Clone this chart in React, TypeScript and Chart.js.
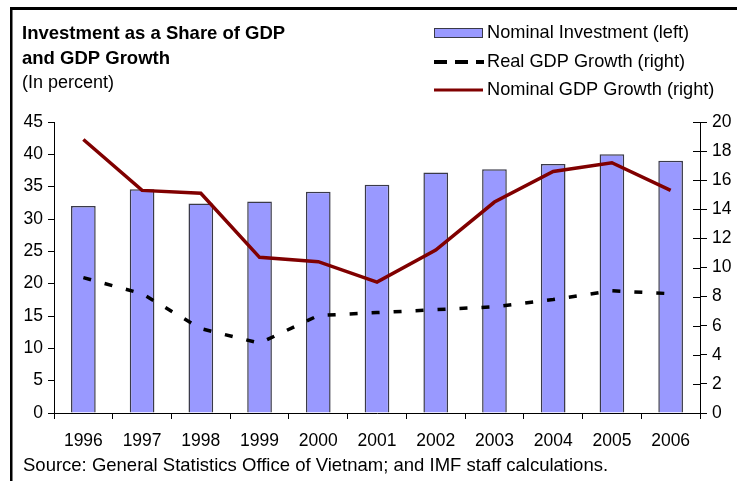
import React, { useEffect, useRef } from 'react';
import { Chart, registerables } from 'chart.js';

Chart.register(...registerables);

const years = ['1996', '1997', '1998', '1999', '2000', '2001', '2002', '2003', '2004', '2005', '2006'];
const nominalInvestment = [32.0, 34.6, 32.4, 32.7, 34.2, 35.3, 37.2, 37.7, 38.5, 40.0, 39.0];
const realGdpGrowth = [9.3, 8.2, 5.8, 4.8, 6.7, 6.9, 7.1, 7.3, 7.8, 8.4, 8.2];
const nominalGdpGrowth = [18.8, 15.3, 15.1, 10.7, 10.4, 9.0, 11.2, 14.5, 16.6, 17.2, 15.3];

const titleLines = ['Investment as a Share of GDP', 'and GDP Growth'];
const subtitle = '(In percent)';
const legendLabels = ['Nominal Investment (left)', 'Real GDP Growth (right)', 'Nominal GDP Growth (right)'];
const sourceNote = 'Source: General Statistics Office of Vietnam; and IMF staff calculations.';

const FONT = '"Liberation Sans", Arial, sans-serif';
const BAR_FILL = '#9999FF';
const BAR_BORDER = '#3a3a48';
const RED = '#800000';

export default function App() {
  const ref = useRef<HTMLCanvasElement>(null);

  useEffect(() => {
    const canvas = ref.current;
    if (!canvas) return;

    const decor = {
      id: 'decor',
      beforeDraw(chart: any) {
        const ctx = chart.ctx;
        ctx.save();
        ctx.fillStyle = '#ffffff';
        ctx.fillRect(0, 0, chart.width, chart.height);
        ctx.fillStyle = '#000000';
        // frame: top and left rules
        ctx.fillRect(10, 7, chart.width - 10, 3);
        ctx.fillRect(10, 7, 2.5, chart.height - 7);
        ctx.restore();
      },
      afterDraw(chart: any) {
        const ctx = chart.ctx;
        ctx.save();
        // title
        ctx.fillStyle = '#000';
        ctx.textBaseline = 'alphabetic';
        ctx.textAlign = 'left';
        ctx.font = `bold 18.5px ${FONT}`;
        ctx.fillText(titleLines[0], 22, 39);
        ctx.fillText(titleLines[1], 22, 64);
        ctx.font = `18px ${FONT}`;
        ctx.fillText(subtitle, 22, 88);

        // legend
        ctx.textBaseline = 'middle';
        const lx = 434;
        const tx = 487;
        const ly = [33, 62, 90];
        ctx.fillStyle = BAR_FILL;
        ctx.fillRect(lx, 28, 48, 9);
        ctx.strokeStyle = BAR_BORDER;
        ctx.lineWidth = 1;
        ctx.strokeRect(lx + 0.5, 28.5, 48, 9);
        ctx.beginPath();
        ctx.strokeStyle = '#000';
        ctx.lineWidth = 4;
        ctx.setLineDash([13, 8]);
        ctx.moveTo(lx, ly[1]);
        ctx.lineTo(lx + 50, ly[1]);
        ctx.stroke();
        ctx.setLineDash([]);
        ctx.beginPath();
        ctx.strokeStyle = RED;
        ctx.lineWidth = 3;
        ctx.moveTo(lx, ly[2]);
        ctx.lineTo(lx + 49, ly[2]);
        ctx.stroke();
        ctx.fillStyle = '#000';
        ctx.font = `18.2px ${FONT}`;
        legendLabels.forEach((t, i) => ctx.fillText(t, tx, ly[i]));

        // source
        ctx.font = `18.5px ${FONT}`;
        ctx.fillText(sourceNote, 23, 466);

        // inner tick marks on right axis
        const y2 = chart.scales.y2;
        ctx.strokeStyle = '#000';
        ctx.lineWidth = 1;
        y2.ticks.forEach((tk: any) => {
          const py = Math.round(y2.getPixelForValue(tk.value)) + 0.5;
          ctx.beginPath();
          ctx.moveTo(y2.left - 7, py);
          ctx.lineTo(y2.left, py);
          ctx.stroke();
        });
        ctx.restore();
      },
    };

    const chart = new Chart(canvas, {
      type: 'bar',
      data: {
        labels: years,
        datasets: [
          {
            type: 'line',
            label: legendLabels[2],
            data: nominalGdpGrowth,
            yAxisID: 'y2',
            borderColor: RED,
            borderWidth: 3.5,
            pointRadius: 0,
            tension: 0,
            fill: false,
            order: 1,
          },
          {
            type: 'line',
            label: legendLabels[1],
            data: realGdpGrowth,
            yAxisID: 'y2',
            borderColor: '#000',
            borderWidth: 3.5,
            borderDash: [8, 14],
            borderCapStyle: 'butt',
            pointRadius: 0,
            tension: 0,
            fill: false,
            order: 2,
          },
          {
            type: 'bar',
            label: legendLabels[0],
            data: nominalInvestment,
            yAxisID: 'y',
            backgroundColor: BAR_FILL,
            borderColor: BAR_BORDER,
            borderWidth: 1.5,
            borderSkipped: 'bottom',
            barPercentage: 0.42,
            categoryPercentage: 1,
            order: 3,
          },
        ],
      } as any,
      plugins: [decor],
      options: {
        responsive: false,
        animation: false,
        devicePixelRatio: 1,
        layout: { padding: { top: 122, left: 0, right: 0, bottom: 0 } },
        plugins: {
          legend: { display: false },
          title: { display: false },
          tooltip: { enabled: false },
        },
        scales: {
          x: {
            grid: { drawOnChartArea: false, offset: true, tickLength: 6, color: '#000', tickColor: '#000' },
            border: { color: '#000', width: 1 },
            ticks: { color: '#000', font: { family: FONT, size: 17.5 }, padding: 12, maxRotation: 0 },
            afterFit: (s: any) => { s.height = 68; },
          },
          y: {
            position: 'left',
            min: 0,
            max: 45,
            grid: { drawOnChartArea: false, tickLength: 6, color: '#000', tickColor: '#000' },
            border: { color: '#000', width: 1 },
            ticks: { stepSize: 5, color: '#000', font: { family: FONT, size: 17.5 }, padding: 5 },
            afterFit: (s: any) => { s.width = 54; },
          },
          y2: {
            position: 'right',
            min: 0,
            max: 20,
            grid: { drawOnChartArea: false, tickLength: 7, color: '#000', tickColor: '#000' },
            border: { color: '#000', width: 1 },
            ticks: { stepSize: 2, color: '#000', font: { family: FONT, size: 17.5 }, padding: 5 },
            afterFit: (s: any) => { s.width = 37; },
          },
        },
      } as any,
    });

    return () => chart.destroy();
  }, []);

  return (
    <div style={{ position: 'fixed', left: 0, top: 0, width: 737, height: 481, background: '#fff', overflow: 'hidden' }}>
      <canvas ref={ref} width={737} height={481} style={{ display: 'block', width: 737, height: 481 }} />
    </div>
  );
}
